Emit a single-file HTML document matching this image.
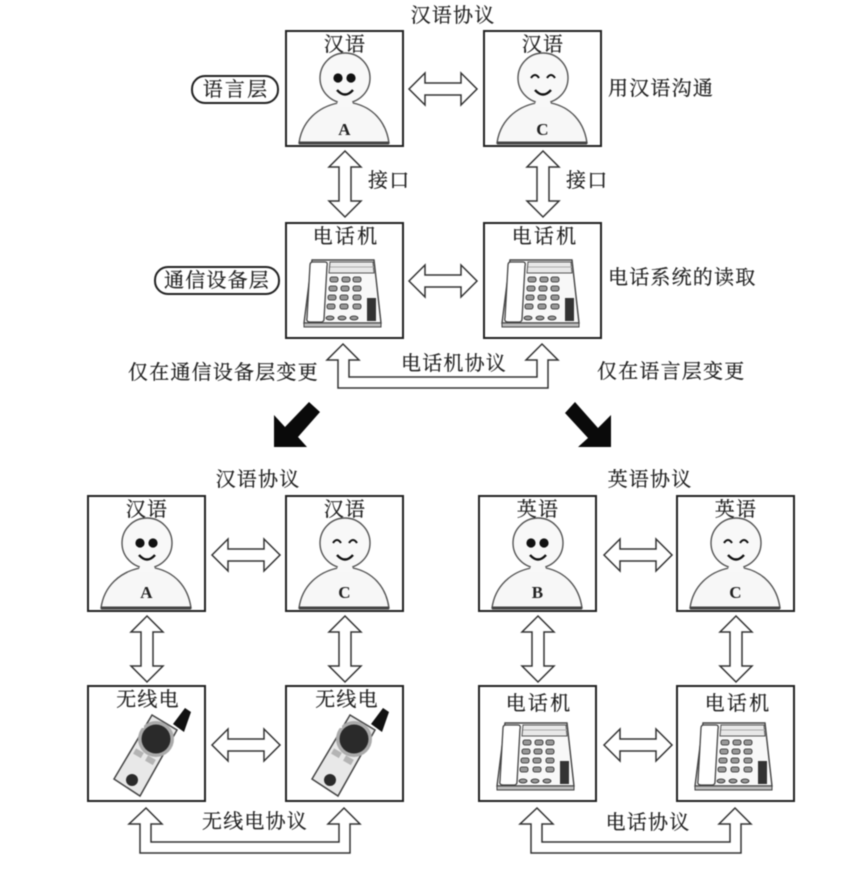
<!DOCTYPE html>
<html><head><meta charset="utf-8"><style>
html,body{margin:0;padding:0;background:#fff}
svg{display:block;filter:blur(.55px)}
text{font-family:"Liberation Serif","Noto Serif CJK SC",serif;font-size:20px;fill:#222;stroke:#222;stroke-width:.25;letter-spacing:1.2px;text-anchor:middle}
.l{text-anchor:start}
.big{letter-spacing:2.2px}
.let{font-size:17px;font-weight:bold;stroke:none}
.ar{fill:#fff;stroke:#333;stroke-width:1.5;stroke-linejoin:miter}
.box{fill:#fff;stroke:#222;stroke-width:2}
</style></head><body>
<svg width="859" height="873" viewBox="0 0 859 873" xmlns="http://www.w3.org/2000/svg">
<defs>
<path id="h" class="ar" d="M0 0L16 -16V-6H52V-16L68 0L52 16V6H16V16Z"/>
<path id="v" class="ar" d="M0 0L16 16H6V50H16L0 66L-16 50H-6V16H-16Z"/>
<g id="body">
<rect class="box" width="117" height="115"/>
<path d="M13 112C16 90 32 76 52 72C56 75 63 75 67 72C86 76 100 90 103 112Z" fill="#f7f7f7" stroke="#555" stroke-width="1.4"/>
<path d="M13 112H103" stroke="#444" stroke-width="3"/>
<circle cx="59" cy="47" r="25" fill="#f8f8f8" stroke="#555" stroke-width="1.4"/>
<path d="M52 70H66L68 76H50Z" fill="#f8f8f8"/>
<path d="M51 59Q59 68 67 59" fill="none" stroke="#111" stroke-width="2.4"/>
</g>
<g id="pa"><use href="#body"/><circle cx="52" cy="47" r="4.6" fill="#111"/><circle cx="65" cy="47" r="4.6" fill="#111"/></g>
<g id="pc"><use href="#body"/><path d="M47 47Q51 41 55 47M63 47Q67 41 71 47" fill="none" stroke="#111" stroke-width="2"/></g>
<g id="phone">
<rect class="box" width="117" height="115"/>
<path d="M26 37H88L95 100H18Z" fill="#f8f8f8" stroke="#444" stroke-width="1.4"/>
<path d="M18 100H95V104H18Z" fill="#bbb" stroke="#444" stroke-width="1"/>
<path d="M27 39H39Q42 39 41 43L38 96Q38 99 35 99H24Q20 99 21 95L24 42Q24 39 27 39Z" fill="#fff" stroke="#444" stroke-width="1.3"/>
<path d="M44 39H87L88 50H43Z" fill="#e8e8e8" stroke="#555" stroke-width="1"/>
<path d="M44 44H88" stroke="#aaa" stroke-width="1"/>
<g fill="#999" stroke="#222" stroke-width=".8">
<rect x="44" y="54" width="8" height="5" rx="2"/><rect x="56" y="54" width="8" height="5" rx="2"/><rect x="67" y="54" width="8" height="5" rx="2"/>
<rect x="43" y="63" width="8" height="5" rx="2"/><rect x="55" y="63" width="8" height="5" rx="2"/><rect x="67" y="63" width="8" height="5" rx="2"/>
<rect x="42" y="72" width="8" height="5" rx="2"/><rect x="54" y="72" width="8" height="5" rx="2"/><rect x="67" y="72" width="8" height="5" rx="2"/>
<rect x="41" y="81" width="8" height="5" rx="2"/><rect x="54" y="81" width="8" height="5" rx="2"/><rect x="67" y="81" width="8" height="5" rx="2"/>
<ellipse cx="44" cy="95" rx="4" ry="2"/><ellipse cx="56" cy="95" rx="4" ry="2"/><ellipse cx="68" cy="95" rx="4" ry="2"/>
</g>
<rect x="81" y="75" width="9" height="23" fill="#333"/>
</g>
<g id="radio">
<rect class="box" width="117" height="115"/>
<path d="M85 38L96 46L103 26L97 22Z" fill="#111"/>
<path d="M64 29L89 44L52 110L26 93Z" fill="#e8e8e8" stroke="#444" stroke-width="1.5"/>
<circle cx="68" cy="53" r="18" fill="#aaa"/>
<circle cx="68" cy="53" r="14.5" fill="#2a2a2a"/>
<rect x="58" y="71" width="9" height="6" fill="#b4b4b4" transform="rotate(30 62 74)"/>
<rect x="46" y="64" width="9" height="6" fill="#b4b4b4" transform="rotate(30 50 67)"/>
<circle cx="44" cy="94" r="6" fill="#2a2a2a"/>
<rect x="52" y="38" width="4" height="4" fill="#fff"/>
</g>
</defs>

<use href="#pa" x="286" y="31"/>
<use href="#pc" x="484" y="31"/>
<use href="#phone" x="286" y="223"/>
<use href="#phone" x="484" y="223"/>
<use href="#h" x="409" y="89"/>
<use href="#h" x="409" y="281"/>
<use href="#v" x="345" y="151"/>
<use href="#v" x="543" y="151"/>
<path class="ar" d="M343 344L359 360H349V377H537V360H526L542 344L558 360H548V388H338V360H327Z"/>

<text x="453" y="22">汉语协议</text>
<text x="345" y="51">汉语</text>
<text x="543" y="51">汉语</text>
<text class="let" x="345" y="135">A</text>
<text class="let" x="543" y="135">C</text>
<text class="l" x="368" y="187">接口</text>
<text class="l" x="566" y="187">接口</text>
<text x="346" y="243" class="big">电话机</text>
<text x="545" y="243" class="big">电话机</text>
<text class="l" x="608" y="95">用汉语沟通</text>
<text class="l" x="608" y="284">电话系统的读取</text>
<rect x="192" y="76" width="86" height="27" rx="13" fill="#fff" stroke="#222" stroke-width="2"/>
<text x="236" y="96" class="big">语言层</text>
<rect x="155" y="267" width="124" height="27" rx="13" fill="#fff" stroke="#222" stroke-width="2"/>
<text x="217" y="287">通信设备层</text>
<text x="454" y="370">电话机协议</text>
<text class="l" x="128" y="379">仅在通信设备层变更</text>
<text class="l" x="597" y="378">仅在语言层变更</text>

<path d="M274 447V415L285 427L309 402L320 412L298 437L307 447Z" fill="#0a0a0a"/>
<path d="M611 447V415L598 428L575 402L565 413L588 438L578 447Z" fill="#0a0a0a"/>

<use href="#pa" x="88" y="496"/>
<use href="#pc" x="286" y="496"/>
<use href="#radio" x="88" y="686"/>
<use href="#radio" x="286" y="686"/>
<use href="#h" x="212" y="555"/>
<use href="#h" x="212" y="745"/>
<use href="#v" x="147" y="616"/>
<use href="#v" x="345" y="616"/>
<path class="ar" d="M146 808L162 824H151V842H339V824H328L344 808L360 824H350V853H140V824H129Z"/>
<text x="258" y="486">汉语协议</text>
<text x="147" y="516">汉语</text>
<text x="345" y="516">汉语</text>
<text class="let" x="147" y="598">A</text>
<text class="let" x="345" y="598">C</text>
<text x="148" y="706">无线电</text>
<text x="347" y="706">无线电</text>
<text x="255" y="828">无线电协议</text>

<use href="#pa" x="479" y="496"/>
<use href="#pc" x="677" y="496"/>
<use href="#phone" x="479" y="686"/>
<use href="#phone" x="677" y="686"/>
<use href="#h" x="604" y="555"/>
<use href="#h" x="604" y="745"/>
<use href="#v" x="538" y="616"/>
<use href="#v" x="736" y="616"/>
<path class="ar" d="M537 808L553 824H542V842H730V824H719L735 808L751 824H741V853H531V824H520Z"/>
<text x="650" y="486">英语协议</text>
<text x="538" y="516">英语</text>
<text x="736" y="516">英语</text>
<text class="let" x="538" y="598">B</text>
<text class="let" x="736" y="598">C</text>
<text x="539" y="710" class="big">电话机</text>
<text x="738" y="710" class="big">电话机</text>
<text x="648" y="829">电话协议</text>
</svg>
</body></html>
